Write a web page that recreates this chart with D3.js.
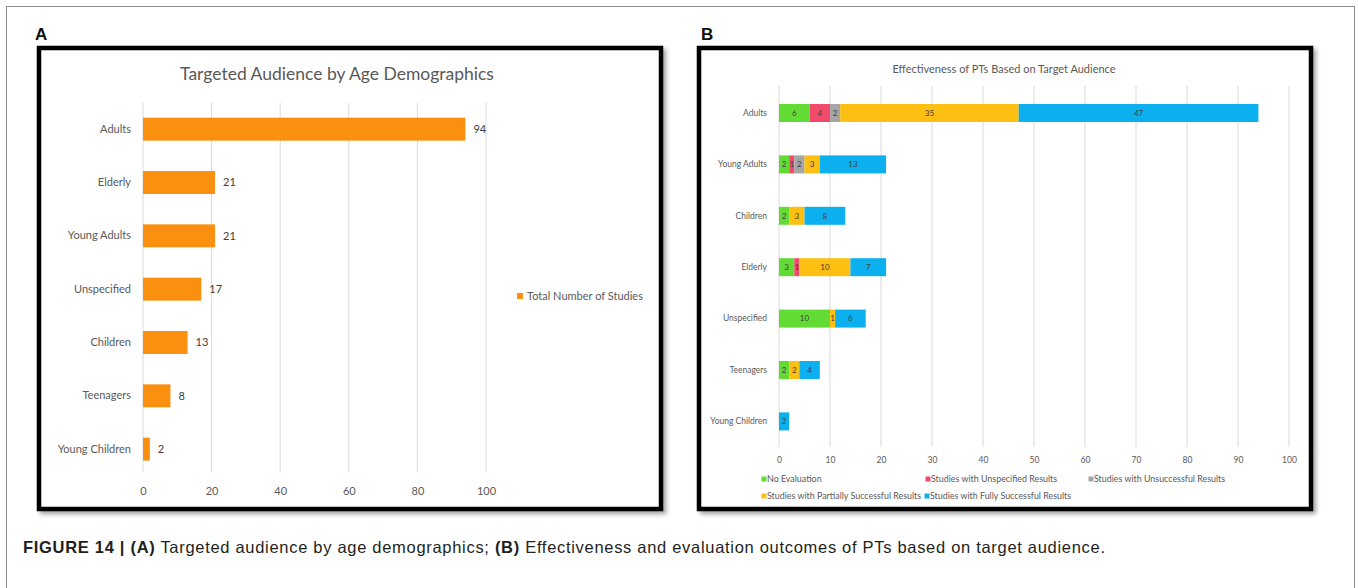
<!DOCTYPE html>
<html>
<head>
<meta charset="utf-8">
<script src="https://cdn.jsdelivr.net/npm/d3@7"></script>
<style>
  html, body { margin: 0; padding: 0; background: #fff; }
  svg { display: block; }
</style>
</head>
<body>
<svg id="fig" width="1358" height="588"></svg>
<script>
// ---- Panel A data: total number of studies per audience ----
const audienceA = ["Adults", "Elderly", "Young Adults", "Unspecified", "Children", "Teenagers", "Young Children"];
const totalStudies = [94, 21, 21, 17, 13, 8, 2];
const ticksA = [0, 20, 40, 60, 80, 100];

// ---- Panel B data: evaluation outcomes per audience ----
const audienceB = ["Adults", "Young Adults", "Children", "Elderly", "Unspecified", "Teenagers", "Young Children"];
const outcomeNames = [
  "No Evaluation",
  "Studies with Unspecified Results",
  "Studies with Unsuccessful Results",
  "Studies with Partially Successful Results",
  "Studies with Fully Successful Results"
];
const noEvaluation        = [6, 2, 2, 3, 10, 2, 0];
const unspecifiedResults  = [4, 1, 0, 1, 0, 0, 0];
const unsuccessfulResults = [2, 2, 0, 0, 0, 0, 0];
const partialResults      = [35, 3, 3, 10, 1, 2, 0];
const fullResults         = [47, 13, 8, 7, 6, 4, 2];
const ticksB = [0, 10, 20, 30, 40, 50, 60, 70, 80, 90, 100];
const outcomeColors = ["#62dc35", "#f24b6a", "#a5a5a5", "#fdbf12", "#0cb0ef"];

const svg = d3.select("#fig");
const font = "Lato, 'Open Sans', sans-serif";
const textGray = "#595959";

// shadow under the panel frames
const defs = svg.append("defs");
const sh = defs.append("filter").attr("id", "shadow").attr("x", "-5%").attr("y", "-5%").attr("width", "110%").attr("height", "110%");
sh.append("feDropShadow").attr("dx", 3).attr("dy", 3).attr("stdDeviation", 2).attr("flood-color", "#000").attr("flood-opacity", 0.35);

// outer figure frame
svg.append("rect").attr("x", 6.5).attr("y", 6.5).attr("width", 1348).attr("height", 600)
  .attr("fill", "none").attr("stroke", "#8c8c8c").attr("stroke-width", 1);

// panel letters
svg.append("text").attr("x", 35).attr("y", 40).text("A")
  .attr("font-family", "'Liberation Sans', Arial, sans-serif").attr("font-weight", "bold").attr("font-size", 17).attr("fill", "#111");
svg.append("text").attr("x", 701).attr("y", 40).text("B")
  .attr("font-family", "'Liberation Sans', Arial, sans-serif").attr("font-weight", "bold").attr("font-size", 17).attr("fill", "#111");

// panel frames
function frame(x, y, w, h) {
  svg.append("rect").attr("x", x).attr("y", y).attr("width", w).attr("height", h)
    .attr("fill", "#fff").attr("stroke", "#000").attr("stroke-width", 4.5).attr("filter", "url(#shadow)");
}
frame(39, 48, 622, 461);
frame(699, 48, 612, 461);

// ================= Panel A =================
const gA = svg.append("g");
const xA = d3.scaleLinear().domain([0, 100]).range([143, 486]);
const yA = d3.scaleBand().domain(audienceA).range([102.5, 475.8]).paddingInner(0.57).paddingOuter(0.285);

gA.append("text").attr("x", 337).attr("y", 80).attr("text-anchor", "middle")
  .attr("font-family", font).attr("font-size", 17.5).attr("fill", textGray)
  .text("Targeted Audience by Age Demographics");

gA.selectAll("line.grid").data(ticksA).join("line")
  .attr("x1", d => xA(d)).attr("x2", d => xA(d))
  .attr("y1", 103).attr("y2", 472)
  .attr("stroke", "#d9d9d9").attr("stroke-width", 1);

const axisA = d3.axisBottom(xA).tickValues(ticksA).tickSize(0).tickPadding(0);
gA.append("g").attr("transform", "translate(0,495)").call(axisA)
  .call(g => g.select(".domain").remove())
  .call(g => g.selectAll("text").attr("font-family", font).attr("font-size", 11).attr("fill", textGray).attr("dy", 0));

const yAxisA = d3.axisLeft(yA).tickSize(0).tickPadding(0);
gA.append("g").attr("transform", "translate(131,0)").call(yAxisA)
  .call(g => g.select(".domain").remove())
  .call(g => g.selectAll("text").attr("font-family", font).attr("font-size", 11).attr("fill", textGray));

const rowsA = audienceA.map((a, i) => ({ a, v: totalStudies[i] }));
gA.selectAll("rect.bar").data(rowsA).join("rect")
  .attr("x", xA(0)).attr("y", d => yA(d.a))
  .attr("width", d => xA(d.v) - xA(0)).attr("height", yA.bandwidth())
  .attr("fill", "#fb8f10");

gA.selectAll("text.val").data(rowsA).join("text")
  .attr("x", d => xA(d.v) + 8).attr("y", d => yA(d.a) + yA.bandwidth() / 2)
  .attr("dy", "0.35em").attr("font-family", font).attr("font-size", 11).attr("fill", "#404040")
  .text(d => d.v);

gA.append("rect").attr("x", 517).attr("y", 293).attr("width", 6).attr("height", 6).attr("fill", "#fb8f10");
gA.append("text").attr("x", 527).attr("y", 296).attr("dy", "0.35em")
  .attr("font-family", font).attr("font-size", 11).attr("fill", textGray).text("Total Number of Studies");

// ================= Panel B =================
const gB = svg.append("g");
const xB = d3.scaleLinear().domain([0, 100]).range([779, 1289]);
const yB = d3.scaleBand().domain(audienceB).range([87.3, 447.1]).paddingInner(0.65).paddingOuter(0.325);

gB.append("text").attr("x", 1004).attr("y", 73).attr("text-anchor", "middle")
  .attr("font-family", font).attr("font-size", 11).attr("fill", textGray)
  .text("Effectiveness of PTs Based on Target Audience");

gB.selectAll("line.grid").data(ticksB).join("line")
  .attr("x1", d => xB(d)).attr("x2", d => xB(d))
  .attr("y1", 86).attr("y2", 447)
  .attr("stroke", "#d9d9d9").attr("stroke-width", 1);

const axisB = d3.axisBottom(xB).tickValues(ticksB).tickSize(0).tickPadding(0);
gB.append("g").attr("transform", "translate(0,463)").call(axisB)
  .call(g => g.select(".domain").remove())
  .call(g => g.selectAll("text").attr("font-family", font).attr("font-size", 8.5).attr("fill", textGray).attr("dy", 0));

const yAxisB = d3.axisLeft(yB).tickSize(0).tickPadding(0);
gB.append("g").attr("transform", "translate(767,0)").call(yAxisB)
  .call(g => g.select(".domain").remove())
  .call(g => g.selectAll("text").attr("font-family", font).attr("font-size", 8.5).attr("fill", textGray));

const seriesB = [noEvaluation, unspecifiedResults, unsuccessfulResults, partialResults, fullResults];
const tableB = audienceB.map((a, i) => {
  const row = { a };
  outcomeNames.forEach((n, k) => row[n] = seriesB[k][i]);
  return row;
});
const stacked = d3.stack().keys(outcomeNames)(tableB);

const layers = gB.selectAll("g.layer").data(stacked).join("g")
  .attr("fill", (d, k) => outcomeColors[k]);
layers.selectAll("rect").data(d => d.filter(s => s[1] > s[0])).join("rect")
  .attr("x", s => xB(s[0])).attr("y", s => yB(s.data.a))
  .attr("width", s => xB(s[1]) - xB(s[0])).attr("height", yB.bandwidth());
layers.selectAll("text").data(d => d.filter(s => s[1] > s[0])).join("text")
  .attr("x", s => (xB(s[0]) + xB(s[1])) / 2).attr("y", s => yB(s.data.a) + yB.bandwidth() / 2)
  .attr("dy", "0.35em").attr("text-anchor", "middle")
  .attr("font-family", font).attr("font-size", 8).attr("fill", "#404040")
  .text(s => s[1] - s[0]);

// legend, two rows
const legendPos = [[764, 479], [928, 479], [1091, 479], [764, 496], [927, 496]];
outcomeNames.forEach((n, k) => {
  const [lx, ly] = legendPos[k];
  gB.append("rect").attr("x", lx - 2.5).attr("y", ly - 2.5).attr("width", 5).attr("height", 5).attr("fill", outcomeColors[k]);
  gB.append("text").attr("x", lx + 3).attr("y", ly).attr("dy", "0.35em")
    .attr("font-family", font).attr("font-size", 8.9).attr("fill", textGray).text(n);
});

// ================= Caption =================
const cap = svg.append("text").attr("x", 23).attr("y", 553)
  .attr("font-family", "'Liberation Sans', Arial, sans-serif").attr("font-size", 16.5).attr("fill", "#231f20")
  .attr("textLength", 1082).attr("lengthAdjust", "spacing");
cap.append("tspan").attr("font-weight", "bold").text("FIGURE 14 | (A)");
cap.append("tspan").text(" Targeted audience by age demographics; ");
cap.append("tspan").attr("font-weight", "bold").text("(B)");
cap.append("tspan").text(" Effectiveness and evaluation outcomes of PTs based on target audience.");
</script>
</body>
</html>
